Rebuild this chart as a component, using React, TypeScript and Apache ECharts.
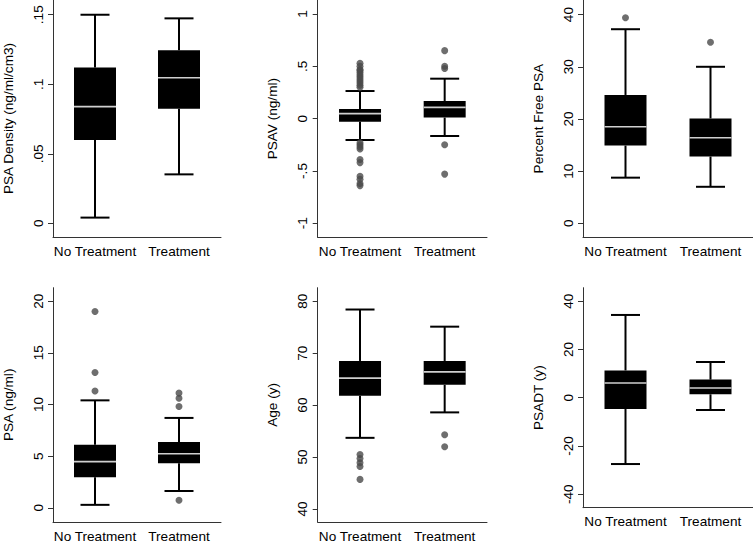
import React, { useEffect, useRef } from "react";
import * as echarts from "echarts";

const categories = ["No Treatment", "Treatment"];

// box stats: [lowWhisker, q1, median, q3, highWhisker] per category
const psaDensityBoxes = [
  [0.0041, 0.0599, 0.0839, 0.1121, 0.15],
  [0.0352, 0.0824, 0.1047, 0.1244, 0.1474],
];
const psavBoxes = [
  [-0.204, -0.029, 0.048, 0.092, 0.264],
  [-0.166, 0.01, 0.108, 0.169, 0.382],
];
const pctFreeBoxes = [
  [8.75, 14.9, 18.5, 24.6, 37.2],
  [7.0, 12.8, 16.4, 20.1, 30.0],
];
const psaBoxes = [
  [0.29, 2.97, 4.47, 6.1, 10.4],
  [1.63, 4.31, 5.24, 6.36, 8.7],
];
const ageBoxes = [
  [53.7, 61.8, 65.2, 68.5, 78.4],
  [58.6, 63.9, 66.4, 68.5, 75.1],
];
const psadtBoxes = [
  [-27.5, -4.7, 6.1, 11.3, 34.3],
  [-5.1, 1.4, 4.0, 7.5, 14.8],
];

// outliers: [categoryIndex, value]
const psaDensityOutliers: number[][] = [];
const psavOutliers = [
  [0, 0.53], [0, 0.5], [0, 0.47], [0, 0.46], [0, 0.44], [0, 0.42], [0, 0.4],
  [0, 0.38], [0, 0.36], [0, 0.34], [0, 0.32], [0, 0.3],
  [0, -0.23], [0, -0.25], [0, -0.27], [0, -0.29], [0, -0.39], [0, -0.42],
  [0, -0.55], [0, -0.58], [0, -0.62], [0, -0.64],
  [1, 0.65], [1, 0.5], [1, 0.48], [1, -0.25], [1, -0.53],
];
const pctFreeOutliers = [[0, 39.4], [1, 34.7]];
const psaOutliers = [[0, 19.0], [0, 13.1], [0, 11.3], [1, 11.1], [1, 10.6], [1, 9.8], [1, 0.73]];
const ageOutliers = [[0, 50.5], [0, 49.7], [0, 48.9], [0, 48.2], [0, 45.7], [1, 54.3], [1, 52.0]];
const psadtOutliers: number[][] = [];

const axisTitles = [
  "PSA Density (ng/ml/cm3)",
  "PSAV (ng/ml)",
  "Percent Free PSA",
  "PSA (ng/ml)",
  "Age (y)",
  "PSADT (y)",
];

const tickValues = [
  [0, 0.05, 0.1, 0.15],
  [-1, -0.5, 0, 0.5, 1],
  [0, 10, 20, 30, 40],
  [0, 5, 10, 15, 20],
  [40, 50, 60, 70, 80],
  [-40, -20, 0, 20, 40],
];

const yRanges = [
  [-0.00985, 0.1606],
  [-1.134, 1.134],
  [-2.68, 42.8],
  [-1.37, 21.3],
  [37.5, 82.6],
  [-45.6, 45.6],
];

const grids = [
  { left: 51, top: 0, width: 170, height: 237 },
  { left: 317.7, top: 0, width: 169.3, height: 237.3 },
  { left: 583, top: 0, width: 170, height: 237.3 },
  { left: 51, top: 287.7, width: 170, height: 236.3 },
  { left: 317.7, top: 287.7, width: 169.3, height: 236 },
  { left: 583, top: 287.7, width: 170, height: 220 },
];

const boxSets = [psaDensityBoxes, psavBoxes, pctFreeBoxes, psaBoxes, ageBoxes, psadtBoxes];
const outlierSets = [psaDensityOutliers, psavOutliers, pctFreeOutliers, psaOutliers, ageOutliers, psadtOutliers];

const FONT = "'Liberation Sans', Arial, Helvetica, sans-serif";

function fmt(v: number): string {
  if (v === 0) return "0";
  let s = String(v);
  s = s.replace(/^0\./, ".").replace(/^-0\./, "-.");
  return s;
}

export default function App() {
  const ref = useRef<HTMLDivElement>(null);
  useEffect(() => {
    if (!ref.current) return;
    const chart = echarts.init(ref.current, undefined, { renderer: "svg" });

    const BOX_W = 42;
    const CAP_W = 29;

    const renderBox = (params: any, api: any) => {
      const cat = api.value(0);
      const low = api.value(1);
      const q1 = api.value(2);
      const med = api.value(3);
      const q3 = api.value(4);
      const high = api.value(5);
      const pLow = api.coord([cat, low]);
      const pQ1 = api.coord([cat, q1]);
      const pMed = api.coord([cat, med]);
      const pQ3 = api.coord([cat, q3]);
      const pHigh = api.coord([cat, high]);
      const x = pMed[0];
      const lineStyle = { stroke: "#000", lineWidth: 2 };
      return {
        type: "group",
        children: [
          { type: "line", shape: { x1: x, y1: pQ3[1], x2: x, y2: pHigh[1] }, style: lineStyle },
          { type: "line", shape: { x1: x, y1: pQ1[1], x2: x, y2: pLow[1] }, style: lineStyle },
          { type: "line", shape: { x1: x - CAP_W / 2, y1: pHigh[1], x2: x + CAP_W / 2, y2: pHigh[1] }, style: lineStyle },
          { type: "line", shape: { x1: x - CAP_W / 2, y1: pLow[1], x2: x + CAP_W / 2, y2: pLow[1] }, style: lineStyle },
          {
            type: "rect",
            shape: { x: x - BOX_W / 2, y: pQ3[1], width: BOX_W, height: pQ1[1] - pQ3[1] },
            style: { fill: "#000" },
          },
          {
            type: "line",
            shape: { x1: x - BOX_W / 2, y1: pMed[1], x2: x + BOX_W / 2, y2: pMed[1] },
            style: { stroke: "#cfcfcf", lineWidth: 1.6 },
          },
        ],
      };
    };

    const series: any[] = [];
    boxSets.forEach((boxes, i) => {
      series.push({
        type: "custom",
        xAxisIndex: i,
        yAxisIndex: i,
        renderItem: renderBox,
        data: boxes.map((b, c) => [c, ...b]),
        encode: { x: 0, y: [1, 2, 3, 4, 5] },
        silent: true,
      });
      series.push({
        type: "scatter",
        xAxisIndex: i,
        yAxisIndex: i,
        data: outlierSets[i],
        symbol: "circle",
        symbolSize: 7,
        itemStyle: { color: "#4a4a4a" },
        silent: true,
      });
    });

    const option: any = {
      animation: false,
      backgroundColor: "#fff",
      textStyle: { fontFamily: FONT },
      grid: grids.map((g) => ({ ...g, containLabel: false })),
      xAxis: grids.map((_, i) => ({
        type: "category",
        gridIndex: i,
        data: categories,
        boundaryGap: true,
        axisLine: { show: true, onZero: false, lineStyle: { color: "#333", width: 1 } },
        axisTick: { show: false },
        axisLabel: { margin: 7, fontSize: 13.6, color: "#000", fontFamily: FONT, interval: 0 },
        splitLine: { show: false },
      })),
      yAxis: grids.map((_, i) => ({
        type: "value",
        gridIndex: i,
        min: yRanges[i][0],
        max: yRanges[i][1],
        name: axisTitles[i],
        nameLocation: "middle",
        nameGap: 38,
        nameTextStyle: { fontSize: 13.6, color: "#000", fontFamily: FONT },
        axisLine: { show: true, onZero: false, lineStyle: { color: "#333", width: 1 } },
        axisTick: { show: true, length: 5, customValues: tickValues[i], lineStyle: { color: "#333" } },
        axisLabel: {
          show: true,
          customValues: tickValues[i],
          rotate: 90,
          margin: 8,
          fontSize: 13.6,
          color: "#000",
          fontFamily: FONT,
          formatter: (v: number) => fmt(v),
          showMinLabel: true,
          showMaxLabel: true,
        },
        splitLine: { show: false },
      })),
      series,
    };
    chart.setOption(option);
    return () => chart.dispose();
  }, []);

  return (
    <div
      ref={ref}
      style={{ position: "fixed", left: 0, top: 0, width: 753, height: 543, background: "#fff" }}
    />
  );
}
